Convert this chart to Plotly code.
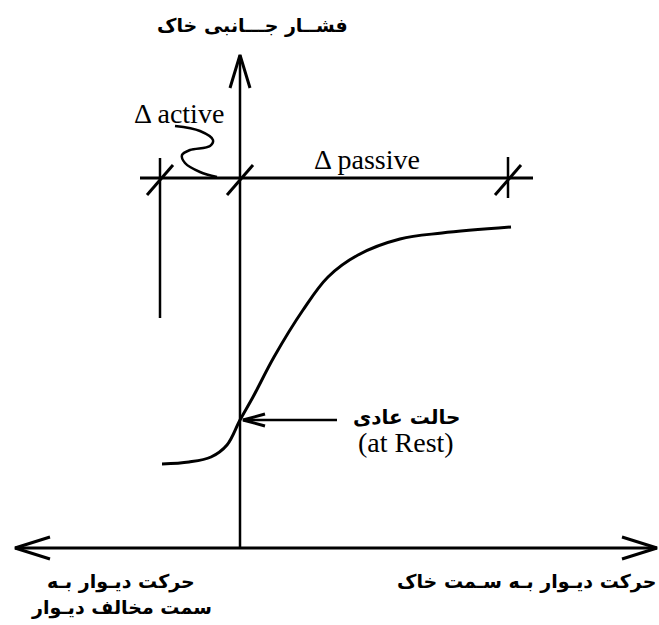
import plotly.graph_objects as go

# ---- data (diagram units: origin at axes intersection) ----
curve_x = [-78, -51, -29, -13, 0, 13, 34, 63, 88, 118, 160, 202, 271]
curve_y = [84, 86, 91, 103, 128, 151, 191, 238, 271, 293, 309, 315, 321]

rest_point = (0, 128)
level_y = 370                      # horizontal reference line
tick_x = [-80, 0, 268]             # active limit, rest, passive limit
level_line_x = [-100, 293]
active_line_y = [390, 230]         # vertical line at active limit
passive_tick_y = [391, 350]
x_axis_range = [-225, 417]
y_axis_top = 493
squiggle_x = [-65, -40, -27, -30, -50, -58, -55, -40, -23]
squiggle_y = [422, 417, 408, 402, 398, 393, 385, 376, 371]

title_text = "فشــار جـــانبی خاک"
left_label = ["حرکت دیـوار بـه", "سمت مخالف دیـوار"]
right_label = "حرکت دیـوار بـه سـمت خاک"
rest_label = ["حالت عادی", "(at Rest)"]
active_label = "Δ active"
passive_label = "Δ passive"

W, H = 659, 625
BLK = "black"

fig = go.Figure()


def line(xs, ys, w=3, shape="linear"):
    fig.add_trace(go.Scatter(x=xs, y=ys, mode="lines",
                             line=dict(color=BLK, width=w, shape=shape, smoothing=1.0),
                             hoverinfo="skip", showlegend=False))


# axes
line(x_axis_range, [0, 0], 3)
line([0, 0], [0, y_axis_top], 2.5)
# arrowheads (open V)
xl, xr = x_axis_range
line([xl + 35, xl, xl + 35], [11, 0, -11], 3)
line([xr - 35, xr, xr - 35], [11, 0, -11], 3)
line([-10, 0, 10], [y_axis_top - 33, y_axis_top, y_axis_top - 33], 3)

# reference level line and ticks
line(level_line_x, [level_y, level_y], 3)
line([tick_x[0], tick_x[0]], active_line_y, 2.5)
line([tick_x[2], tick_x[2]], passive_tick_y, 2.5)
for tx in tick_x:
    line([tx - 13, tx + 13], [level_y - 17, level_y + 13], 3)

# squiggle pointer for delta active
line(squiggle_x, squiggle_y, 2.5, "spline")

# curve
line(curve_x, curve_y, 3, "spline")

# at-rest arrow
rx, ry = rest_point
line([rx + 97, rx + 3], [ry, ry], 2.5)
line([rx + 25, rx + 3, rx + 25], [ry + 6, ry, ry - 6], 3)

ar = "DejaVu Sans"
serif = "Liberation Serif"
ann = [
    dict(x=12, y=523, text="<b>" + title_text + "</b>", font=dict(family=ar, size=19, color=BLK)),
    dict(x=-61, y=435, text=active_label, font=dict(family=serif, size=28, color=BLK)),
    dict(x=127, y=389, text=passive_label, font=dict(family=serif, size=28, color=BLK)),
    dict(x=166, y=131, text="<b>" + rest_label[0] + "</b>", font=dict(family=ar, size=20, color=BLK)),
    dict(x=166, y=106, text=rest_label[1], font=dict(family=serif, size=28, color=BLK)),
    dict(x=-119, y=-33, text="<b>" + left_label[0] + "</b>", font=dict(family=ar, size=19, color=BLK)),
    dict(x=-119, y=-59, text="<b>" + left_label[1] + "</b>", font=dict(family=ar, size=19, color=BLK)),
    dict(x=418, y=-33, text="<b>" + right_label + "</b>", xanchor="right", font=dict(family=ar, size=19, color=BLK)),
]
for a in ann:
    a.setdefault("xanchor", "center")
    a.update(yanchor="middle", showarrow=False, xref="x", yref="y")

fig.update_layout(
    width=W, height=H, autosize=False,
    margin=dict(l=0, r=0, t=0, b=0),
    paper_bgcolor="white", plot_bgcolor="white",
    xaxis=dict(range=[-240, 419], visible=False, fixedrange=True),
    yaxis=dict(range=[-77, 548], visible=False, fixedrange=True),
    annotations=ann,
    showlegend=False,
)

fig.write_html("out.html", config={"displayModeBar": False},
               post_script="document.body.style.margin='0px';document.body.style.overflow='hidden';")
